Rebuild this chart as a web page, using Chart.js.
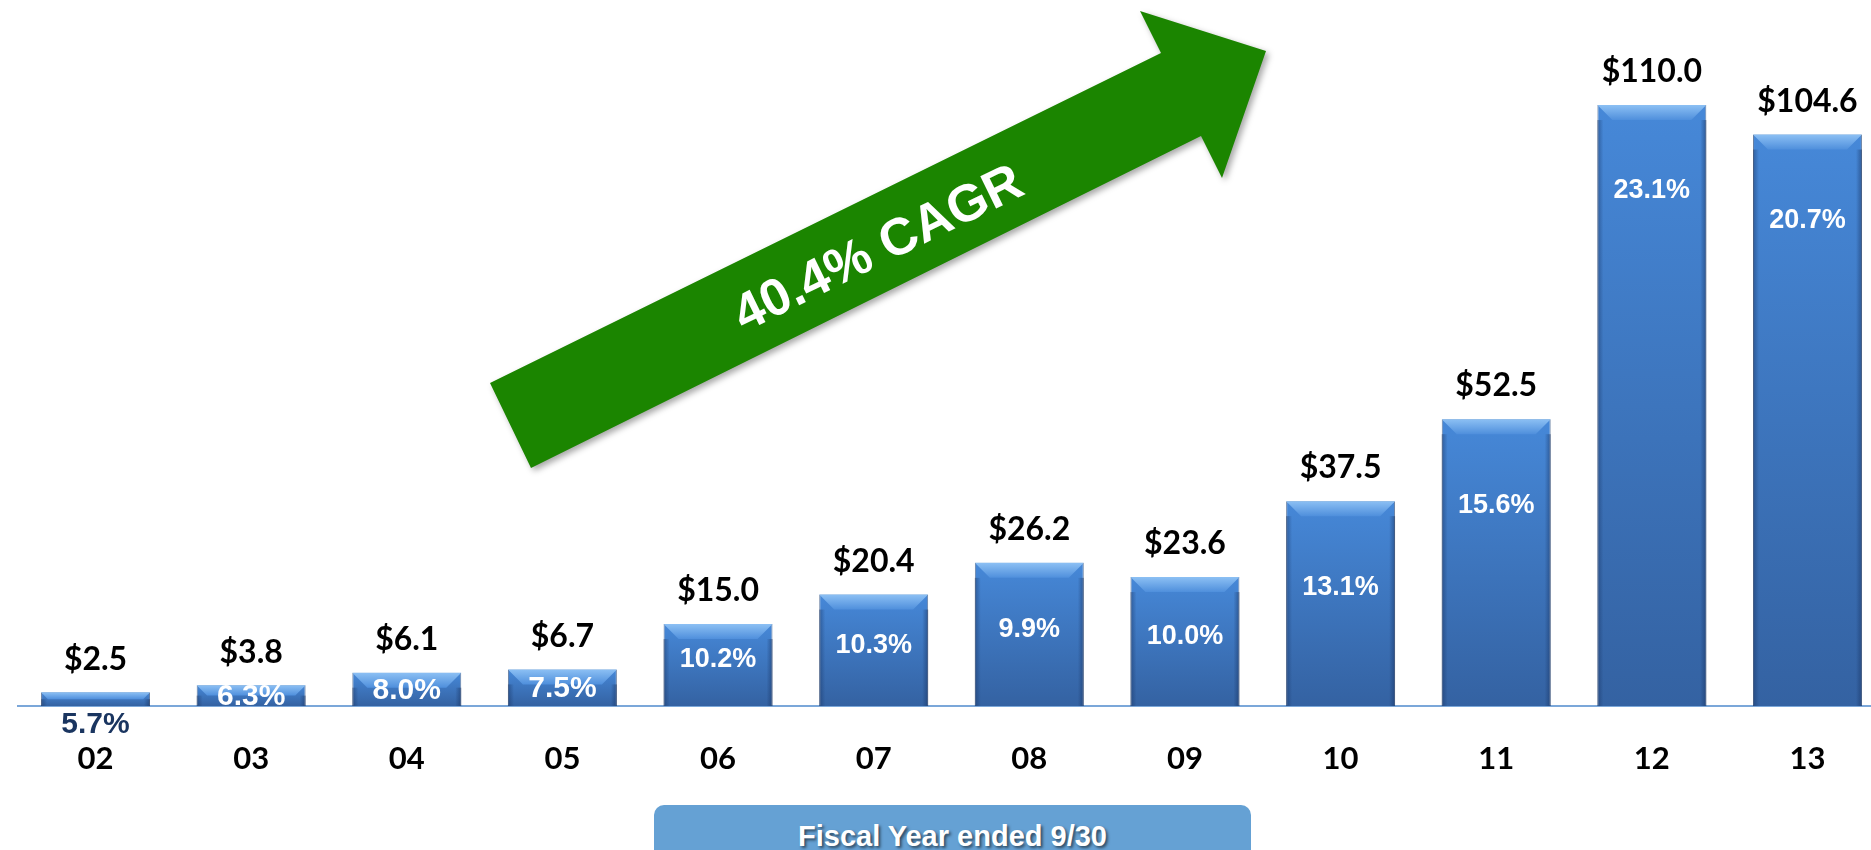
<!DOCTYPE html>
<html>
<head>
<meta charset="utf-8">
<script src="https://cdn.jsdelivr.net/npm/chart.js@4.4.1/dist/chart.umd.min.js"></script>
<style>
  html, body { margin: 0; padding: 0; background: #ffffff; overflow: hidden; width: 1871px; height: 850px; }
  #wrap { position: relative; width: 1871px; height: 850px; overflow: hidden; }
  #c { position: absolute; left: 0; top: 0; }
  #fy {
    position: absolute; left: 654px; top: 805px; width: 597px; height: 70px;
    background: #65a1d4; border-radius: 10px;
    color: #ffffff; font: bold 29px "Liberation Sans", Arial, sans-serif;
    text-align: center; line-height: 34px; padding-top: 14px; box-sizing: border-box;
    text-shadow: 2px 2px 3px rgba(0,0,0,0.55);
  }
</style>
</head>
<body>
<div id="wrap">
  <canvas id="c" width="1900" height="850" style="width:1900px;height:850px"></canvas>
  <div id="fy">Fiscal Year ended 9/30</div>
</div>
<script>
// ---- data ----
const categories = ['02','03','04','05','06','07','08','09','10','11','12','13'];
const revenue = [2.5, 3.8, 6.1, 6.7, 15.0, 20.4, 26.2, 23.6, 37.5, 52.5, 110.0, 104.6];
const marginPct = [5.7, 6.3, 8.0, 7.5, 10.2, 10.3, 9.9, 10.0, 13.1, 15.6, 23.1, 20.7];
const cagrLabel = '40.4% CAGR';

const VALUE_FONT = 'bold 32px Lato, "Open Sans", sans-serif';
const PCT_FONT = 'bold 27px "Liberation Sans", Arial, sans-serif';
const PCT_FONT_SMALL = 'bold 30px "Liberation Sans Narrow", "Liberation Sans", Arial, sans-serif';

const barDecor = {
  id: 'barDecor',
  afterDatasetsDraw(chart) {
    const ctx = chart.ctx;
    const meta = chart.getDatasetMeta(0);
    meta.data.forEach((bar, i) => {
      const p = bar.getProps(['x','y','base','width'], true);
      const l = p.x - p.width / 2, r = p.x + p.width / 2, t = p.y, b = p.base;
      const h = b - t;
      const bv = Math.min(15, h / 2);
      ctx.save();
      const g = ctx.createLinearGradient(0, t, 0, t + bv);
      g.addColorStop(0, '#8cc0f4');
      g.addColorStop(1, '#4f8fdc');
      ctx.fillStyle = g;
      ctx.beginPath();
      ctx.moveTo(l, t); ctx.lineTo(r, t); ctx.lineTo(r - bv, t + bv); ctx.lineTo(l + bv, t + bv); ctx.closePath();
      ctx.fill();
      const gl = ctx.createLinearGradient(l, 0, l + 6, 0);
      gl.addColorStop(0, 'rgba(20,45,90,0.45)'); gl.addColorStop(1, 'rgba(20,45,90,0)');
      ctx.fillStyle = gl; ctx.fillRect(l, t + bv, 6, h - bv);
      const gr = ctx.createLinearGradient(r, 0, r - 6, 0);
      gr.addColorStop(0, 'rgba(20,45,90,0.5)'); gr.addColorStop(1, 'rgba(20,45,90,0)');
      ctx.fillStyle = gr; ctx.fillRect(r - 6, t + bv, 6, h - bv);
      ctx.restore();
    });
  }
};

const labelsPlugin = {
  id: 'labelsPlugin',
  afterDatasetsDraw(chart) {
    const ctx = chart.ctx;
    const meta = chart.getDatasetMeta(0);
    ctx.save();
    ctx.textAlign = 'center';
    ctx.textBaseline = 'middle';
    meta.data.forEach((bar, i) => {
      const p = bar.getProps(['x','y','base'], true);
      const h = p.base - p.y;
      ctx.font = VALUE_FONT;
      ctx.fillStyle = '#000000';
      ctx.fillText('$' + revenue[i].toFixed(1), p.x, p.y - 33);
      const txt = marginPct[i].toFixed(1) + '%';
      let y, color = '#ffffff', font = PCT_FONT;
      if (h < 18) { y = p.base + 19; color = '#1a3560'; font = PCT_FONT_SMALL; }
      else if (h < 50) { y = p.y + h / 2 + 1; font = PCT_FONT_SMALL; }
      else { y = p.y + Math.min(h / 2 - 5, 86); }
      ctx.font = font;
      ctx.fillStyle = color;
      ctx.fillText(txt, p.x, y);
    });
    ctx.restore();
  }
};

const arrowPlugin = {
  id: 'arrowPlugin',
  afterDraw(chart) {
    const ctx = chart.ctx;
    ctx.save();
    ctx.shadowColor = 'rgba(0,0,0,0.35)';
    ctx.shadowBlur = 6;
    ctx.shadowOffsetX = 3;
    ctx.shadowOffsetY = 3;
    ctx.fillStyle = '#1b8500';
    ctx.beginPath();
    ctx.moveTo(490, 383);
    ctx.lineTo(1161, 53);
    ctx.lineTo(1140, 11);
    ctx.lineTo(1266, 51);
    ctx.lineTo(1222, 178);
    ctx.lineTo(1201, 136);
    ctx.lineTo(531, 468);
    ctx.closePath();
    ctx.fill();
    ctx.restore();
    ctx.save();
    ctx.translate(879, 250);
    ctx.rotate(Math.atan2(-330, 671));
    ctx.font = 'bold 52px "Liberation Sans", Arial, sans-serif';
    ctx.fillStyle = '#ffffff';
    ctx.textAlign = 'center';
    ctx.textBaseline = 'middle';
    ctx.fillText(cagrLabel, 0, 0);
    ctx.restore();
  }
};

new Chart(document.getElementById('c'), {
  type: 'bar',
  data: {
    labels: categories,
    datasets: [{
      data: revenue,
      backgroundColor: (c) => {
        const chart = c.chart;
        if (!chart.chartArea || c.raw === undefined) return '#3f7fcf';
        const ys = chart.scales.y;
        const top = ys.getPixelForValue(c.raw), bot = ys.getPixelForValue(0);
        const g = chart.ctx.createLinearGradient(0, top, 0, bot);
        g.addColorStop(0, '#4688d8');
        g.addColorStop(1, '#3462a2');
        return g;
      },
      borderColor: 'rgba(35,70,120,0.7)',
      borderWidth: 1,
      borderSkipped: 'bottom',
      categoryPercentage: 1.0,
      barPercentage: 0.70
    }]
  },
  options: {
    responsive: false,
    animation: false,
    devicePixelRatio: 1,
    layout: { padding: { left: 17.7, right: 14.7, top: 50.4, bottom: 0 } },
    plugins: { legend: { display: false }, tooltip: { enabled: false } },
    scales: {
      x: {
        offset: true,
        grid: { display: false, drawTicks: false },
        border: { display: true, color: '#7ba7d9', width: 2 },
        ticks: { color: '#000000', font: { family: 'Lato, "Open Sans", sans-serif', weight: 'bold', size: 31 }, padding: 34, maxRotation: 0, autoSkip: false },
        afterFit: (s) => { s.height = 144; }
      },
      y: { display: false, min: 0, max: 120 }
    }
  },
  plugins: [barDecor, labelsPlugin, arrowPlugin]
});
</script>
</body>
</html>
